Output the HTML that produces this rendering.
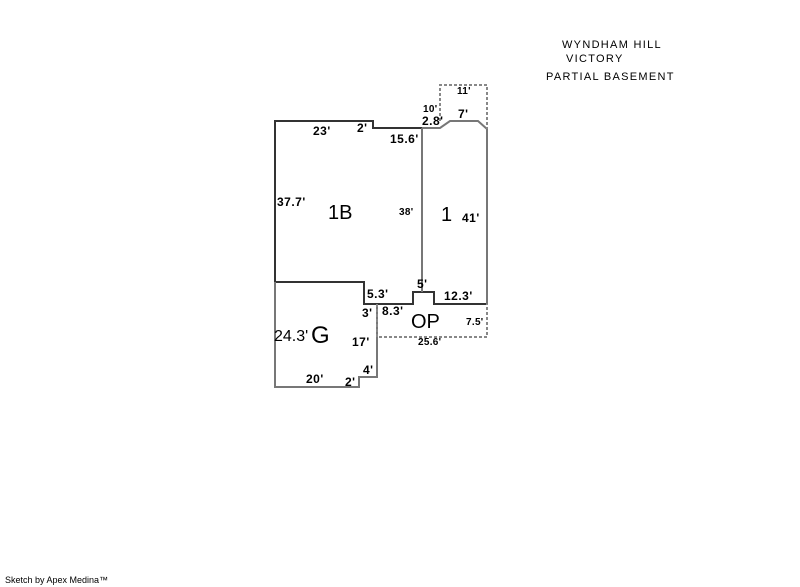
<!DOCTYPE html>
<html><head><style>
html,body{margin:0;padding:0;background:#fff;width:800px;height:587px;overflow:hidden}
svg text{font-family:"Liberation Sans",sans-serif}
.b{font-size:12px;font-weight:bold;fill:#000;letter-spacing:0.5px}
.s{font-size:10px;font-weight:bold;fill:#000;letter-spacing:0.3px}
.t{font-size:11px;fill:#000;letter-spacing:1.3px}
.L{font-size:20px;fill:#000}
</style></head><body>
<svg width="800" height="587" viewBox="0 0 800 587">
<g fill="none" stroke-width="2">
<path d="M275,282 V121 H373 V128 H422" stroke="#333"/>
<path d="M275,282 H364 V304 H377 H413 V292 H434 V304 H487" stroke="#333"/>
<path d="M422,128 H440 L450,121 H478 L487,129 V304" stroke="#777"/>
<path d="M422,128 V292" stroke="#777"/>
<path d="M275,282 V387 H359 V377 H377 V304" stroke="#777"/>
<path d="M440,121 V85 H487 V129" stroke="#888" stroke-dasharray="3,2"/>
<path d="M377,304 V337 H487 V304" stroke="#888" stroke-dasharray="3,2"/>
</g>
<text class="t" x="562" y="48">WYNDHAM HILL</text>
<text class="t" x="566" y="62">VICTORY</text>
<text class="t" x="546" y="80">PARTIAL BASEMENT</text>
<text class="s" x="457" y="94">11'</text>
<text class="s" x="423" y="112">10'</text>
<text class="b" x="458" y="118">7'</text>
<text class="b" x="422" y="125">2.8'</text>
<text class="b" x="313" y="135">23'</text>
<text class="b" x="357" y="132">2'</text>
<text class="b" x="390" y="143">15.6'</text>
<text class="b" x="277" y="206">37.7'</text>
<text class="L" x="328" y="219">1B</text>
<text class="s" x="399" y="215">38'</text>
<text class="L" x="441" y="221">1</text>
<text class="b" x="462" y="222">41'</text>
<text class="b" x="417" y="288">5'</text>
<text class="b" x="367" y="298">5.3'</text>
<text class="b" x="444" y="300">12.3'</text>
<text class="b" x="362" y="317">3'</text>
<text class="b" x="382" y="315">8.3'</text>
<text class="L" x="411" y="328">OP</text>
<text class="s" x="466" y="325">7.5'</text>
<text class="t" x="274" y="341" style="font-size:16px;letter-spacing:0">24.3'</text>
<text class="L" x="311" y="343" style="font-size:24px">G</text>
<text class="b" x="352" y="346">17'</text>
<text class="s" x="418" y="345">25.6'</text>
<text class="b" x="363" y="374">4'</text>
<text class="b" x="306" y="383">20'</text>
<text class="b" x="345" y="386">2'</text>
<text x="5" y="583" style="font-size:9px">Sketch by Apex Medina™</text>
</svg>
</body></html>
